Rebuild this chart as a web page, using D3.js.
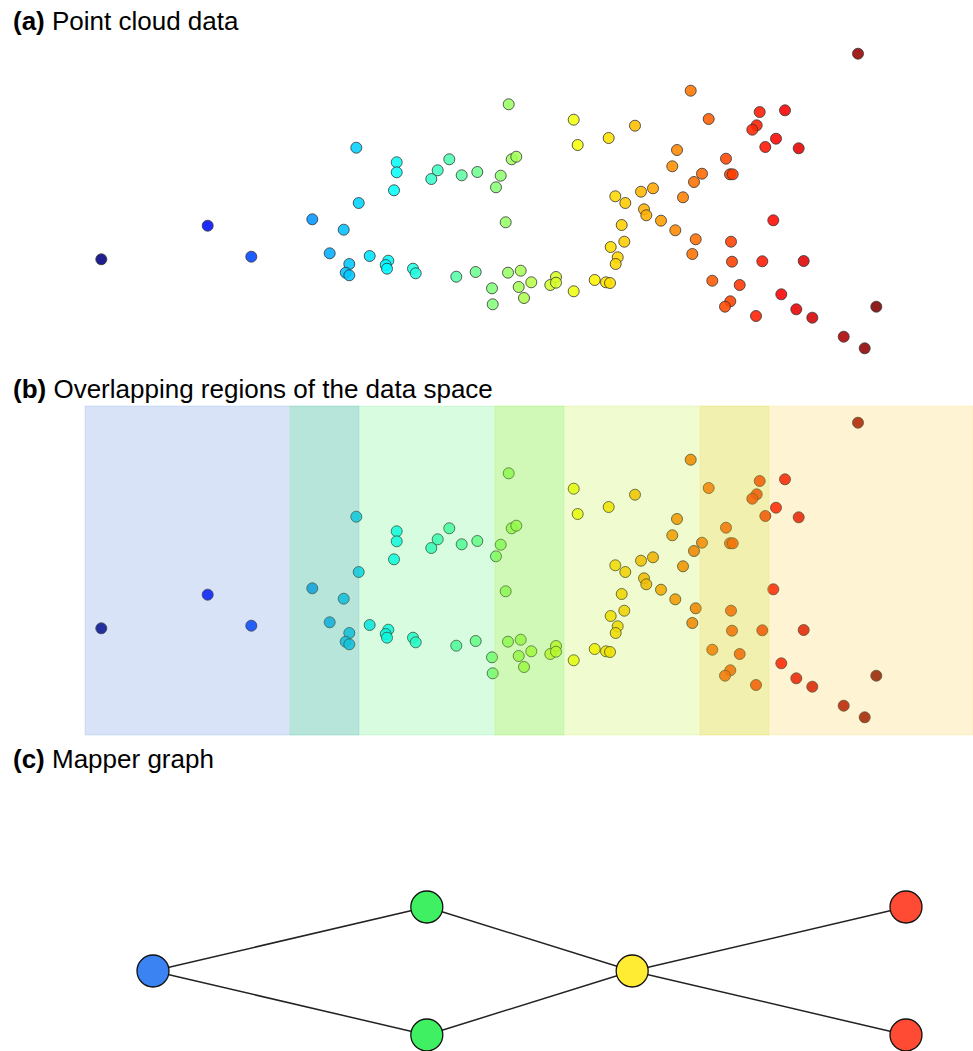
<!DOCTYPE html>
<html>
<head>
<meta charset="utf-8">
<script src="https://cdn.jsdelivr.net/npm/d3@7"></script>
<style>
  html, body { margin: 0; padding: 0; background: #fff; }
  svg { display: block; }
  text { font-family: "Liberation Sans", Arial, Helvetica, sans-serif; }
</style>
</head>
<body>
<svg id="chart" width="973" height="1051"></svg>
<script>
// ---- data (arbitrary data-space units) ----
const pointX = [0.163,1.227,1.663,2.713,2.737,2.273,2.587,2.447,2.847,2.643,2.607,2.643,3.033,3.007,3.020,3.280,3.307,3.117,3.117,3.090,
  3.463,3.527,3.643,3.767,3.923,4.157,4.110,4.267,4.313,4.237,4.207,3.713,3.907,4.070,4.077,4.230,4.357,4.337,4.463,4.390,
  4.653,4.710,4.710,4.887,4.887,4.927,5.237,5.500,5.097,5.210,5.250,5.303,5.403,5.367,5.393,5.257,5.327,5.307,5.560,5.680,
  5.590,5.613,5.760,5.873,7.730,6.057,6.237,6.747,7.000,6.717,6.673,6.910,6.803,7.137,5.920,6.410,6.170,6.090,6.450,6.477,
  5.980,5.903,6.107,6.073,6.460,6.883,6.470,6.773,7.187,6.273,6.547,6.963,6.453,6.400,6.710,7.113,7.273,7.913,7.587,7.797];
const pointY = [1.067,1.403,1.093,2.183,1.630,1.467,1.363,1.127,1.100,1.020,0.933,0.907,1.053,1.010,0.973,0.973,0.927,2.037,1.937,1.757,
  1.870,1.957,2.067,1.907,1.940,1.903,1.787,2.067,2.093,2.617,1.437,0.893,0.940,0.777,0.617,0.933,0.953,0.790,0.837,0.680,
  0.810,0.890,0.833,0.747,2.463,2.210,2.280,2.403,0.860,0.837,0.830,1.697,1.630,1.410,1.243,1.190,1.087,1.020,1.743,1.777,
  1.567,1.507,1.453,1.997,3.123,2.753,2.470,2.540,2.557,2.407,2.363,2.273,2.190,2.177,2.160,2.073,1.923,1.840,1.917,1.917,
  1.687,1.357,1.267,1.120,1.243,1.457,1.043,1.047,1.050,0.853,0.810,0.717,0.647,0.593,0.500,0.567,0.483,0.593,0.293,0.177];

// cover intervals (overlapping regions)
const regionStart = [0.00, 2.05, 4.10, 6.15];
const regionEnd   = [2.74, 4.79, 6.84, 8.89];
const regionColor = ["#3c73dc", "#3cf064", "#b4eb14", "#fac828"];

// mapper graph
const nodeLevel = [0, 1, 1, 1.75, 2.75, 2.75];
const nodeRow   = [0, -1, 1, 0, -1, 1];
const nodeColor = ["#3b82f2", "#3ff062", "#3ff062", "#ffec33", "#ff4b33", "#ff4b33"];
const edgeSource = [0, 0, 1, 2, 3, 3];
const edgeTarget = [1, 2, 3, 3, 4, 5];

const titles = [["(a)", " Point cloud data"], ["(b)", " Overlapping regions of the data space"], ["(c)", " Mapper graph"]];

// ---- drawing ----
const svg = d3.select("#chart");
const W = 973;

const x = d3.scaleLinear().domain([0, 8.88]).range([85, 973]);
const yA = d3.scaleLinear().domain([0, 3.29]).range([366, 37]);
const yB = d3.scaleLinear().domain([0, 3.29]).range([735, 406]);

const colorScale = d3.scaleSequential(t => {
  const r = Math.max(0, Math.min(1, 1.5 - Math.abs(4 * t - 3)));
  const g = Math.max(0, Math.min(1, 1.5 - Math.abs(4 * t - 2)));
  const b = Math.max(0, Math.min(1, 1.5 - Math.abs(4 * t - 1)));
  return d3.rgb(r * 255, g * 255, b * 255).formatHex();
}).domain(d3.extent(pointX));

const pts = pointX.map((v, i) => ({ x: v, y: pointY[i] }));

// titles
const titleY = [30, 398, 768];
titles.forEach((t, i) => {
  const tx = svg.append("text").attr("x", 13).attr("y", titleY[i]).attr("font-size", 26).attr("fill", "#000");
  tx.append("tspan").attr("font-weight", "bold").text(t[0]);
  tx.append("tspan").text(t[1]);
});

function drawPoints(g, yScale) {
  g.selectAll("circle").data(pts).join("circle")
    .attr("cx", d => x(d.x))
    .attr("cy", d => yScale(d.y))
    .attr("r", 5.5)
    .attr("fill", d => colorScale(d.x))
    .attr("fill-opacity", 0.88)
    .attr("stroke", "#333")
    .attr("stroke-opacity", 0.8)
    .attr("stroke-width", 1);
}

// panel a
drawPoints(svg.append("g"), yA);

// panel b
const gB = svg.append("g");
drawPoints(gB, yB);
const regions = regionStart.map((s, i) => ({ s, e: regionEnd[i], c: regionColor[i] }));
gB.selectAll("rect").data(regions).join("rect")
  .attr("x", d => x(d.s))
  .attr("width", d => Math.min(x(d.e), W) - x(d.s))
  .attr("y", yB(3.29))
  .attr("height", yB(0) - yB(3.29))
  .attr("fill", d => d.c)
  .attr("fill-opacity", 0.2)
  .attr("stroke", d => d.c)
  .attr("stroke-opacity", 0.15)
  .attr("stroke-width", 1);

// panel c
const mx = d3.scaleLinear().domain([0, 2.75]).range([153, 906]);
const my = d3.scaleLinear().domain([-1, 1]).range([907, 1035]);
const nodes = nodeLevel.map((l, i) => ({ l, r: nodeRow[i], c: nodeColor[i] }));
const edges = edgeSource.map((s, i) => ({ s: nodes[s], t: nodes[edgeTarget[i]] }));
const gC = svg.append("g");
gC.selectAll("line").data(edges).join("line")
  .attr("x1", d => mx(d.s.l)).attr("y1", d => my(d.s.r))
  .attr("x2", d => mx(d.t.l)).attr("y2", d => my(d.t.r))
  .attr("stroke", "#222").attr("stroke-width", 1.5);
gC.selectAll("circle").data(nodes).join("circle")
  .attr("cx", d => mx(d.l)).attr("cy", d => my(d.r))
  .attr("r", 16)
  .attr("fill", d => d.c)
  .attr("stroke", "#111").attr("stroke-width", 1.3);
</script>
</body>
</html>
